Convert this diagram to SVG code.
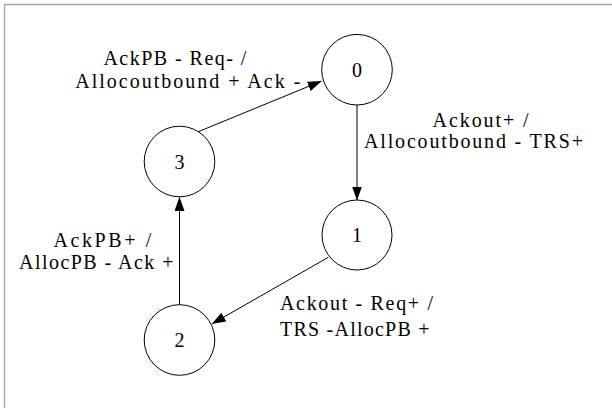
<svg xmlns="http://www.w3.org/2000/svg" width="612" height="408" viewBox="0 0 612 408">
  <style>
    .frame { fill: none; stroke: #a3a3a3; stroke-width: 1.3; }
    .state { fill: #ffffff; stroke: #000000; stroke-width: 1; }
    .num { font-family: "Liberation Serif", "Times New Roman", serif; font-size: 20px; fill: #000000; text-anchor: middle; }
    .edge { fill: none; stroke: #000000; stroke-width: 1; marker-end: url(#arrow); }
    .lbl { font-family: "Liberation Serif", "Times New Roman", serif; font-size: 20px; fill: #000000; }
  </style>
  <defs>
    <marker id="arrow" viewBox="0 0 14 10" refX="14" refY="5" markerWidth="14" markerHeight="10" markerUnits="userSpaceOnUse" orient="auto">
      <path d="M0,0 L14,5 L0,10 Z" fill="#000000"/>
    </marker>
  </defs>

  <rect width="612" height="408" fill="#ffffff"/>
  <!-- page frame: top and left edges only -->
  <path class="frame" d="M4.5,408 V4.5 H612"/>

  <!-- transitions -->
  <g id="edges">
    <path class="edge" d="M357,105 L357,200.5"/>
    <path class="edge" d="M328.3,257.3 L211.7,324"/>
    <path class="edge" d="M179.5,305 L179.5,197"/>
    <path class="edge" d="M198.3,131.7 L321.7,81"/>
  </g>

  <!-- transition labels -->
  <g id="edge-labels">
    <text class="lbl" x="103.4" y="65" textLength="143" lengthAdjust="spacing">AckPB - Req- /</text>
    <text class="lbl" x="75.3" y="88.3" textLength="225" lengthAdjust="spacing">Allocoutbound + Ack -</text>
    <text class="lbl" x="432.6" y="126.7" textLength="96" lengthAdjust="spacing">Ackout+ /</text>
    <text class="lbl" x="364" y="148.3" textLength="219" lengthAdjust="spacing">Allocoutbound - TRS+</text>
    <text class="lbl" x="53.4" y="247.3" textLength="98" lengthAdjust="spacing">AckPB+ /</text>
    <text class="lbl" x="19" y="268.9" textLength="154.5" lengthAdjust="spacing">AllocPB - Ack +</text>
    <text class="lbl" x="280" y="309.7" textLength="153" lengthAdjust="spacing">Ackout - Req+ /</text>
    <text class="lbl" x="280" y="336" textLength="149.5" lengthAdjust="spacing">TRS -AllocPB +</text>
  </g>

  <!-- states -->
  <g id="state0">
    <circle class="state" cx="357" cy="69.7" r="35.3"/>
    <text class="num" x="357" y="76.7">0</text>
  </g>
  <g id="state1">
    <circle class="state" cx="357" cy="235" r="35"/>
    <text class="num" x="357" y="242">1</text>
  </g>
  <g id="state2">
    <circle class="state" cx="179.5" cy="340" r="35.3"/>
    <text class="num" x="179.5" y="347">2</text>
  </g>
  <g id="state3">
    <circle class="state" cx="179.5" cy="161.5" r="35.3"/>
    <text class="num" x="179.5" y="168.5">3</text>
  </g>
</svg>
